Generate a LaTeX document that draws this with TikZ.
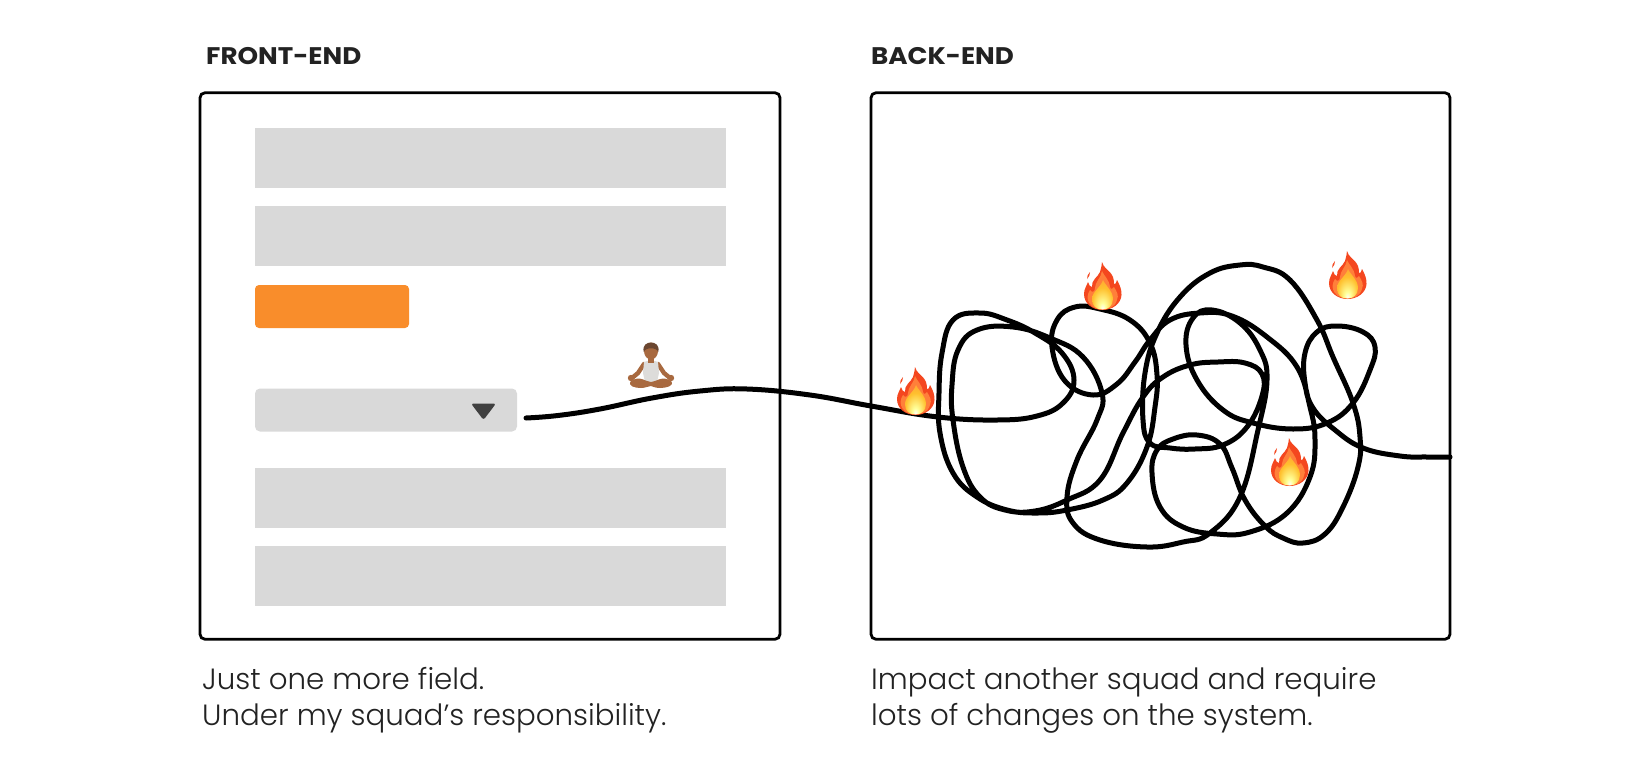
\documentclass[tikz,border=0pt]{standalone}
\usepackage{fontspec}
\usepackage{tikz}
\setmainfont[BoldFont={Poppins Bold}]{Poppins Light}
\newfontfamily\headfont[FakeStretch=1.09]{Poppins Bold}
\definecolor{inkgray}{HTML}{222222}
\definecolor{fieldgray}{HTML}{D9D9D9}
\definecolor{caretgray}{HTML}{404040}
\definecolor{btnorange}{HTML}{F98D2B}
\definecolor{flamered}{HTML}{F4471F}
\definecolor{flamemid}{HTML}{FF7F3A}
\definecolor{flamegold}{HTML}{FFC02E}
\definecolor{skintone}{HTML}{A8693F}
\definecolor{hairtone}{HTML}{6B4630}
\definecolor{vestgray}{HTML}{DDDCDA}
\pgfdeclareradialshading{flameglow}{\pgfpoint{0bp}{-24bp}}{color(0bp)=(white);color(7bp)=(white!60!yellow);color(24bp)=(flamegold);color(50bp)=(flamemid)}
\tikzset{
  frame/.style={draw=black, line width=2.8pt, rounded corners=5pt, inner sep=0pt},
  field/.style={fill=fieldgray, inner sep=0pt},
  heading/.style={anchor=base west, inner sep=0pt, text=inkgray, font=\fontsize{24}{28}\selectfont\headfont},
  caption/.style={anchor=base west, inner sep=0pt, text=inkgray, font=\fontsize{29.3}{35}\selectfont},
  wire/.style={line width=5pt, line cap=round, line join=round},
  flame/.pic={
    \fill[flamered] (18,0) .. controls (19,6) and (26,8) .. (29,15)
      .. controls (30,18) and (30,20) .. (30,22) .. controls (31,23) and (32,21) .. (33,18)
      .. controls (36,23) and (38,29) .. (37.5,33) .. controls (37,42) and (28,48) .. (18.5,48)
      .. controls (9,48) and (0,42) .. (0,32) .. controls (0,27) and (3,23) .. (4,20)
      .. controls (5,23) and (6,25) .. (8,25) .. controls (7,18) and (14,15) .. (16,10)
      .. controls (17,6) and (18,3) .. (18,0) -- cycle;
    \fill[flamered] (6,10) .. controls (5,12) and (2,14) .. (3,17) .. controls (5,15) and (6,13) .. (6,10) -- cycle;
    \fill[flamemid] (18,9) .. controls (20,14) and (25,17) .. (26,25)
      .. controls (27,28) and (29,27) .. (30,25) .. controls (33,30) and (35,33) .. (33,38)
      .. controls (31,45) and (25,47.5) .. (18.5,47.5) .. controls (11,47.5) and (4,44) .. (3.5,35)
      .. controls (3.5,32) and (5,30) .. (6,28) .. controls (8,31) and (11,30) .. (11,26)
      .. controls (11,20) and (17,16) .. (18,9) -- cycle;
    \path[shading=flameglow] (19,18) .. controls (21,23) and (29,29) .. (29,37)
      .. controls (29,44) and (24,47.5) .. (18.5,47.5) .. controls (12,47.5) and (8,44) .. (8,37)
      .. controls (8,30) and (17,25) .. (19,18) -- cycle;
  },
  meditator/.pic={
    % arms first, the vest and the legs on top
    \draw[skintone, line width=4.4pt, line cap=round] (24,29) -- (18,38) -- (12,43);
    \draw[skintone, line width=4.4pt, line cap=round] (38,29) -- (44,38) -- (50,43);
    \fill[skintone] (11,43) circle (3.2) (51,43) circle (3.2);
    \fill[vestgray] (24,27) -- (27,26) -- (35,26) -- (38,27) -- (39,38) -- (37,47) -- (25,47) -- (23,38) -- cycle;
    \fill[skintone] (11,46) .. controls (20,40) and (26,47) .. (31,47) .. controls (36,47) and (42,40) .. (51,46)
      .. controls (55,51) and (46,53) .. (40,53) .. controls (34,53) and (33,51) .. (31,51)
      .. controls (28,51) and (26,53) .. (21,53) .. controls (15,53) and (7,51) .. (11,46) -- cycle;
    \fill[skintone] (28,20) rectangle (34,28);
    \fill[skintone] (31,16) ellipse (7 and 8.5);
    \fill[hairtone] (23.8,17) .. controls (22,10) and (27,7.5) .. (31,7.5) .. controls (35,7.5) and (40,10) .. (38.2,17)
      .. controls (37,12) and (25,12) .. (23.8,17) -- cycle;
  }
}
\begin{document}
\begin{tikzpicture}[x=1pt, y=-1pt]
  \useasboundingbox (0,0) rectangle (1650,777);
  \fill[white] (0,0) rectangle (1650,777);

  \node (frontTitle) at (206,64.5) [heading] {FRONT-END};
  \node (backTitle) at (871,64.5) [heading] {BACK-END};

  \node (frontFrame) at (490,366) [frame, minimum width=580pt, minimum height=546.5pt] {};
  \node (backFrame) at (1160.5,366) [frame, minimum width=579pt, minimum height=546.5pt] {};

  \node (fieldA) at (490.5,157.5) [field, minimum width=471pt, minimum height=60pt] {};
  \node (fieldB) at (490.5,236) [field, minimum width=471pt, minimum height=60pt] {};
  \node (button) at (332,306.5) [fill=btnorange, inner sep=0pt, rounded corners=4pt, minimum width=154pt, minimum height=43pt] {};
  \node (select) at (386,410) [field, rounded corners=5pt, minimum width=262pt, minimum height=43pt] {};
  \node (fieldC) at (490.5,497.5) [field, minimum width=471pt, minimum height=60pt] {};
  \node (fieldD) at (490.5,576) [field, minimum width=471pt, minimum height=60pt] {};
  \fill[caretgray, rounded corners=2.5pt] (471,403.5) -- (496,403.5) -- (483.5,420) -- cycle;

  \coordinate (wireStart) at (526,418);
  \coordinate (wireEnd) at (1450,457);
  \draw[wire] plot[smooth, tension=0.7] coordinates {
    (wireStart) (558,415.5) (600,409) (652,398) (700,391) (747,389) (810,395) (871,406) (938,417) (997,420)
    (1037,416) (1063,403) (1074,380) (1062,353) (1035,333) (1007,320) (980,313)
    (953,320) (942,353) (939,393) (940,433) (953,473) (977,497) (1007,510) (1037,513)
    (1067,510) (1103,500) (1127,483) (1147,447) (1155,407) (1157,375) (1150,343)
    (1130,320) (1100,309) (1075,307) (1057,320) (1052,347) (1065,381) (1093,395)
    (1117,384) (1135,362) (1150,340) (1170,320) (1200,313) (1232,316) (1267,337)
    (1297,367) (1310,407) (1315,440) (1310,477) (1287,513) (1250,532) (1217,534)
    (1183,527) (1160,507) (1152,473) (1157,450) (1173,439) (1197,435) (1220,444)
    (1232,468) (1245,500) (1265,526) (1283,538) (1303,543) (1325,534) (1343,507)
    (1358,467) (1360,437) (1353,403) (1333,357) (1317,320) (1290,280) (1263,267)
    (1240,265) (1210,273) (1180,297) (1157,333) (1145,373) (1143,420) (1150,443)
    (1170,448) (1195,449) (1223,445) (1247,427) (1262,396) (1262,374) (1245,363)
    (1218,362) (1190,365) (1163,377) (1143,397) (1123,433) (1100,480) (1067,500)
    (1035,511) (1005,510) (980,497) (963,467) (953,420) (952,385) (958,350) (977,330)
    (1013,327) (1050,338) (1083,357) (1102,393) (1097,420) (1077,460) (1067,497)
    (1073,523) (1100,540) (1147,547) (1183,542) (1210,533) (1240,497) (1258,430)
    (1267,380) (1260,350) (1240,323) (1212,310) (1193,318) (1186,345) (1197,380)
    (1223,410) (1253,423) (1293,429) (1327,423) (1353,403) (1370,370) (1375,347)
    (1363,332) (1337,326) (1317,332) (1305,353) (1305,383) (1313,408) (1335,430)
    (1363,448) (1400,456) (1427,457) (wireEnd) };

  \pic (flameA) at (897,367) {flame};
  \pic (flameB) at (1084,262) {flame};
  \pic (flameC) at (1329,251) {flame};
  \pic (flameD) at (1271,438) {flame};
  \pic (calm) at (620,335) {meditator};

  \node (frontNoteA) at (202,689.5) [caption] {Just one more field.};
  \node (frontNoteB) at (202,725) [caption] {Under my squad’s responsibility.};
  \node (backNoteA) at (871,689.5) [caption] {Impact another squad and require};
  \node (backNoteB) at (871,725) [caption] {lots of changes on the system.};
\end{tikzpicture}
\end{document}
